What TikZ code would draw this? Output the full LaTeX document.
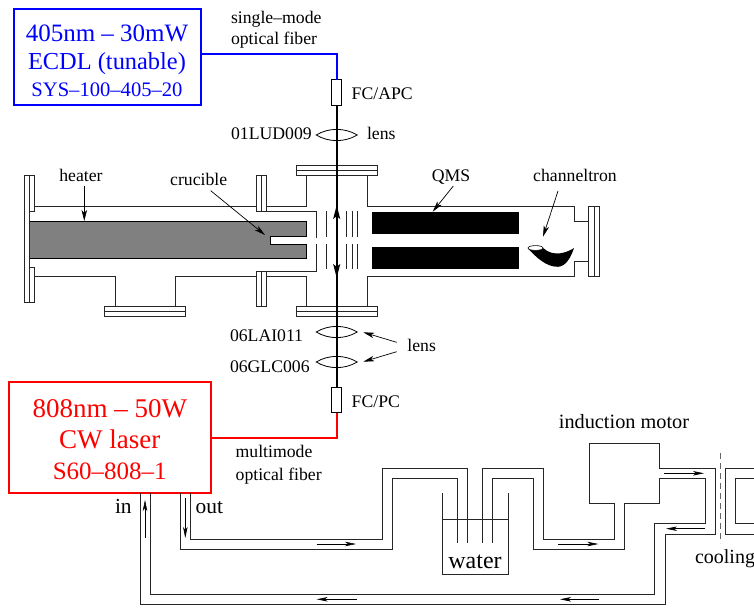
\documentclass[tikz,border=0pt]{standalone}
\usepackage{fontspec}
\setmainfont{Liberation Serif}
\usepackage{tikz}
\usetikzlibrary{arrows.meta,positioning,calc}

\begin{document}
\begin{tikzpicture}[
  x=1pt, y=-1pt,
  every node/.style={inner sep=0pt, outer sep=0pt},
  note/.style={font=\fontsize{17.7}{20}\selectfont},
  bignote/.style={font=\fontsize{21.4}{24}\selectfont},
  part/.style={draw, line width=0.9pt},
  tube/.style={line width=0.9pt, black!85},
  fiber/.style={line width=2pt},
  beam/.style={line width=1.6pt},
  laser/.style={rectangle, draw, line width=2pt, align=center},
  plug/.style={rectangle, draw, line width=0.8pt, minimum width=10pt, minimum height=25.4pt},
  arrow/.style={-{Stealth[length=11pt,width=5.5pt,inset=3pt]}, line width=0.7pt},
  flow/.style={-{Stealth[length=11pt,width=4.5pt,inset=3pt]}, line width=0.6pt},
  rod/.style={fill=black},
  lens/.pic={\draw[line width=0.8pt] (-20.5,0) .. controls (-8,-7.5) and (8,-7.5) .. (20.5,0)
     .. controls (8,7.5) and (-8,7.5) .. (-20.5,0) -- cycle;}
]
  \useasboundingbox (0,0) rectangle (754,607);

  % lasers
  \node[laser, draw=blue, text=blue, minimum width=187pt, minimum height=96pt,
        font=\fontsize{25}{27.5}\selectfont] (ecdl) at (107,57)
    {\rule{0pt}{25pt}405nm – 30mW\\
     {\fontsize{24.4}{27.5}\selectfont ECDL (tunable)}\\
     {\fontsize{20.6}{27.5}\selectfont SYS–100–405–20}};
  \node[laser, draw=red, text=red, minimum width=202.5pt, minimum height=111pt,
        font=\fontsize{27}{31}\selectfont] (cw) at (109.8,437.5)
    {\rule{0pt}{22pt}808nm – 50W\\
     CW laser\\
     {\fontsize{25}{31}\selectfont S60–808–1}};

  % optical path
  \node[plug] (fcapc) at (336.7,92.3) {};
  \node[plug] (fcpc)  at (336.7,400)  {};
  \coordinate (bluebend) at (336.7,54.3);
  \coordinate (redbend)  at (336.7,437.7);
  \draw[fiber, blue] (fcapc.north) -- (bluebend) -- (bluebend -| ecdl.east);
  \draw[fiber, red]  (fcpc.south) -- (redbend) -- (redbend -| cw.east);

  % vacuum chamber
  \draw[part, fill=black!50] (29,221) rectangle (306.7,258.7);
  \draw[part, fill=white] (306.7,236.7) -- (270.7,236.7) -- (270.7,244.3) -- (306.7,244.3);
  \draw[tube] (34,206) -- (256,206) (266,206) -- (306,206) -- (306,175.7)
    (367,175.7) -- (367,206) -- (574,206) -- (574,221) -- (588.6,221)
    (588.6,261) -- (574,261) -- (574,276.7) -- (367,276.7) -- (367,306.7)
    (306,306.7) -- (306,276.7) -- (266,276.7)
    (256,276.7) -- (175,276.7) -- (175,306.7) (115,306.7) -- (115,276.7) -- (34,276.7)
    (266,211) -- (316,211) -- (316,238) (316,244) -- (316,271.7) -- (266,271.7);
  \draw[tube] (24,175.7) rectangle (29,302) (29,175.7) rectangle (34,211) (29,267) rectangle (34,302);
  \draw[tube] (256,175.7) rectangle (266,211) (261,175.7) -- (261,211);
  \draw[tube] (256,271.7) rectangle (266,306.7) (261,271.7) -- (261,306.7);
  \draw[tube] (104.5,306.7) rectangle (185,316.7) (104.5,311.7) -- (185,311.7);
  \draw[tube] (296,165.7) rectangle (377,175.7) (296,170.7) -- (377,170.7);
  \draw[tube] (296,306.7) rectangle (377,316.7) (296,311.7) -- (377,311.7);
  \draw[tube] (588.6,206) rectangle (599.3,276.7) (594,206) -- (594,276.7);

  % extraction plates
  \foreach \px in {326.3,346.7,352.3,357.7}
    \draw[tube] (\px,211) -- (\px,236.7) (\px,244.3) -- (\px,269.3);

  % QMS rods and detector
  \fill[rod] (371.7,212) rectangle (519,234);
  \fill[rod] (371.7,246.7) rectangle (519,268.7);
  \fill (528,248.5) .. controls (536,257) and (546,267) .. (558,266.8)
    .. controls (566,266.5) and (571,257) .. (574,248)
    .. controls (568,252) and (554,258) .. (543,248) -- cycle;
  \draw[fill=white, line width=0.6pt] (535.5,248) ellipse (7.5 and 2.4);

  % beam and lenses
  \draw[beam] (fcapc.south) -- (fcpc.north);
  \coordinate (beammid) at (336.7,241);
  \draw[beam, -{Stealth[length=14pt,width=7pt,inset=3pt]}] (beammid) -- (336.7,205);
  \draw[beam, -{Stealth[length=14pt,width=7pt,inset=3pt]}] (beammid) -- (336.7,278);
  \pic at (336.7,135) {lens};
  \pic at (336.7,332) {lens};
  \pic at (336.7,362) {lens};

  % labels
  \node[note, anchor=base west] (single) at (231,23.3) {single–mode};
  \node[note, anchor=base west] (fibera) at (231,45) {optical fiber};
  \node[note, anchor=base west] (fcapctxt) at (351.7,99.3) {FC/APC};
  \node[note, anchor=base east] (lud) at (311.7,139.3) {01LUD009};
  \node[note, anchor=base west] (lensa) at (367,139.3) {lens};
  \node[note, anchor=base] (heater) at (81,181) {heater};
  \node[note, anchor=base] (crucible) at (198.7,185.7) {crucible};
  \node[note, anchor=base] (qms) at (451,181) {QMS};
  \node[note, anchor=base] (channel) at (575,181) {channeltron};
  \node[note, anchor=base west] (lai) at (230,341.7) {06LAI011};
  \node[note, anchor=base west] (glc) at (230,372.7) {06GLC006};
  \node[note, anchor=base] (lensb) at (421.7,351.7) {lens};
  \node[note, anchor=base west] (fcpctxt) at (351.7,407.3) {FC/PC};
  \node[note, anchor=base west] (multi) at (235.7,457.7) {multimode};
  \node[note, anchor=base west] (fiberb) at (235.7,480) {optical fiber};
  \node[font=\fontsize{20.3}{24}\selectfont, anchor=base] (motor) at (624,428) {induction motor};
  \node[font=\fontsize{20}{24}\selectfont, anchor=base west] (cooling) at (695,563) {cooling};
  \node[bignote, anchor=base west] (intxt) at (115,513.3) {in};
  \node[bignote, anchor=base west] (outtxt) at (195.7,513.3) {out};
  \node[font=\fontsize{24}{28}\selectfont, anchor=base] (water) at (475,568.3) {water};

  % label arrows
  \draw[arrow] (84.3,186) -- (84.3,221);
  \draw[arrow] (210.7,190.7) -- (265,235);
  \draw[arrow] (453.3,186) -- (432.7,211.7);
  \draw[arrow] (558,191) -- (543,236.7);
  \draw[arrow] (396.7,342.3) -- (363.3,332.3);
  \draw[arrow] (396.7,351.7) -- (363.3,361.7);

  % cooling water circuit
  \draw[tube] (cw.south -| 140,0) -- (140,604.3) -- (665,604.3) -- (665,534) -- (715,534) -- (715,468.3)
    -- (659.3,468.3) -- (659.3,443.3) -- (589,443.3) -- (589,503.3) -- (614.3,503.3) -- (614.3,539)
    -- (543.3,539) -- (543.3,468.3) -- (482.7,468.3) -- (482.7,543.3);
  \draw[tube] (cw.south -| 150,0) -- (150,594.3) -- (654.3,594.3) -- (654.3,523.7) -- (705,523.7) -- (705,478.3)
    -- (659.3,478.3) -- (659.3,503.3) -- (624.3,503.3) -- (624.3,549) -- (533.3,549) -- (533.3,478.3)
    -- (492.7,478.3) -- (492.7,543.3);
  \draw[tube] (cw.south -| 180,0) -- (180,549) -- (392.3,549) -- (392.3,478.3) -- (457.7,478.3) -- (457.7,543.3);
  \draw[tube] (cw.south -| 190,0) -- (190,539) -- (382.3,539) -- (382.3,468.3) -- (467.7,468.3) -- (467.7,543.3);
  \draw[tube] (442.7,493.3) -- (442.7,574) -- (508.3,574) -- (508.3,493.3) (442.7,519) -- (508.3,519);
  \draw[tube] (754,468.3) -- (725.7,468.3) -- (725.7,534) -- (754,534);
  \draw[tube] (754,478.3) -- (735.7,478.3) -- (735.7,523.7) -- (754,523.7);
  \draw[line width=1pt, black!60, dash pattern=on 6pt off 4pt] (720,453.3) -- (720,543.3);

  % flow arrows
  \draw[flow] (145,538) -- (145,500);
  \draw[flow] (185.3,498.3) -- (185.3,538);
  \draw[flow] (316.7,544) -- (356,544);
  \draw[flow] (558.3,544) -- (598.3,544);
  \draw[flow] (664.3,473.3) -- (704,473.3);
  \draw[flow] (705,528.7) -- (666,528.7);
  \draw[flow] (356.7,599.3) -- (316.7,599.3);
  \draw[flow] (599,599.3) -- (560,599.3);
\end{tikzpicture}
\end{document}
